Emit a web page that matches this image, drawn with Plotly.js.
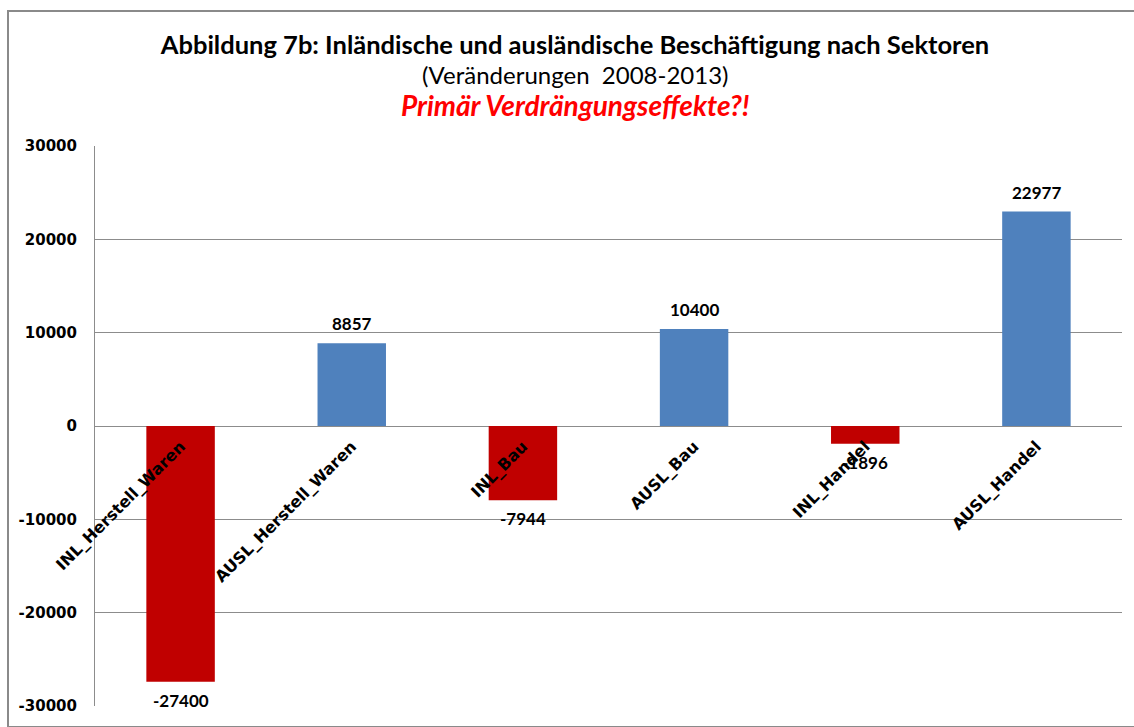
<!DOCTYPE html>
<html>
<head>
<meta charset="utf-8">
<script src="https://cdn.plot.ly/plotly-3.0.1.min.js"></script>
<style>
  html, body { margin: 0; padding: 0; background: #fff; }
  #wrap { position: relative; width: 1134px; height: 727px; overflow: hidden; }
  #chart { position: absolute; left: 0; top: 0; width: 1134px; height: 727px; }
  #frame { position: absolute; left: 7px; top: 10px; width: 1140px; height: 714px;
           border: 2px solid #8a8a8a; pointer-events: none; }
</style>
</head>
<body>
<div id="wrap">
  <div id="chart"></div>
  <div id="frame"></div>
</div>
<script>
// ---- data ----
const categories = ["INL_Herstell_Waren", "AUSL_Herstell_Waren", "INL_Bau", "AUSL_Bau", "INL_Handel", "AUSL_Handel"];
const values = [-27400, 8857, -7944, 10400, -1896, 22977];
const yTickValues = [-30000, -20000, -10000, 0, 10000, 20000, 30000];
const titleLine1 = "Abbildung 7b: Inländische und ausländische Beschäftigung nach Sektoren";
const titleLine2 = "(Veränderungen  2008-2013)";
const titleLine3 = "Primär Verdrängungseffekte?!";

const RED = "#C00000", BLUE = "#4F81BD";
const barColors = values.map(v => v < 0 ? RED : BLUE);

const trace = {
  type: "bar",
  x: categories,
  y: values,
  marker: { color: barColors, line: { width: 0 } },
  hoverinfo: "skip"
};

const centerX = (575 - 95) / 1027;

const valueLabels = categories.map((c, i) => ({
  x: c, y: values[i], xref: "x", yref: "y",
  text: "<b>" + values[i] + "</b>",
  showarrow: false,
  xanchor: "center",
  yanchor: values[i] < 0 ? "top" : "bottom",
  yshift: values[i] < 0 ? -6 : 7,
  font: { family: "Lato, sans-serif", size: 17, color: "#000" }
}));

const layout = {
  width: 1134, height: 727,
  margin: { l: 95, r: 12, t: 146, b: 21 },
  paper_bgcolor: "#fff", plot_bgcolor: "#fff",
  showlegend: false,
  bargap: 0.6,
  title: {
    text: "<b>" + titleLine1 + "</b>",
    font: { family: "Lato, sans-serif", size: 25.5, color: "#000" },
    x: 575 / 1134, xanchor: "center", xref: "container",
    y: 1 - 45 / 727, yanchor: "middle", yref: "container"
  },
  annotations: [
    { text: titleLine2, xref: "paper", yref: "paper", x: centerX, y: 1 + (146 - 74) / 560,
      xanchor: "center", yanchor: "middle", showarrow: false,
      font: { family: "Lato, sans-serif", size: 24, color: "#000" } },
    { text: "<b><i>" + titleLine3 + "</i></b>", xref: "paper", yref: "paper", x: centerX, y: 1 + (146 - 105) / 560,
      xanchor: "center", yanchor: "middle", showarrow: false,
      font: { family: "Lato, sans-serif", size: 28, color: "#FF0000" } }
  ].concat(valueLabels),
  xaxis: {
    type: "category",
    anchor: "free", position: 0.5 - 7 / 560,
    showline: false, showgrid: false, zeroline: false,
    ticks: "",
    tickangle: -45,
    tickfont: { family: "DejaVu Sans", size: 16, color: "#000", weight: "bold" },
    fixedrange: true
  },
  yaxis: {
    range: [-30000, 30000],
    tickvals: yTickValues,
    ticktext: yTickValues.map(v => String(v)),
    showgrid: true, gridcolor: "#8c8c8c", gridwidth: 1,
    zeroline: true, zerolinecolor: "#8c8c8c", zerolinewidth: 1,
    showline: true, linecolor: "#8c8c8c", linewidth: 1,
    ticks: "", ticklabelstandoff: 14,
    tickfont: { family: "DejaVu Sans", size: 15, color: "#000", weight: "bold" },
    fixedrange: true
  }
};

Plotly.newPlot("chart", [trace], layout, { displayModeBar: false, staticPlot: true });
</script>
</body>
</html>
